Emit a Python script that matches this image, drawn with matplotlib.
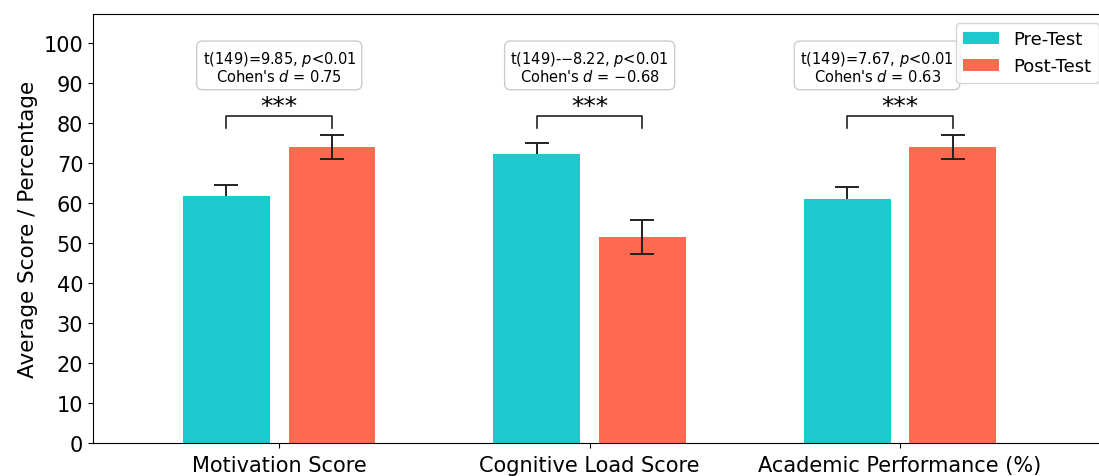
import matplotlib
matplotlib.use("Agg")
from matplotlib import pyplot as plt
import numpy as np

# data
categories = ["Motivation Score", "Cognitive Load Score", "Academic Performance (%)"]
pre_mean = [61.7, 72.3, 61.0]
pre_err = [2.8, 2.7, 3.0]
post_mean = [74.0, 51.5, 74.0]
post_err = [3.0, 4.3, 3.0]
t_labels = ["t(149)=9.85", "t(149)-\u22128.22", "t(149)=7.67"]
d_labels = ["0.75", "\u22120.68", "0.63"]

pre_color = "#1CC9CD"
post_color = "#FF6A50"

fig = plt.figure(figsize=(10.99, 4.77), dpi=100)
ax = fig.add_axes([93 / 1099, 33 / 477, (1108 - 93) / 1099, 429 / 477])

x = np.arange(len(categories))
w = 0.28
off = 0.17

# pre-test error bars sit behind their bars (lower half hidden)
ax.bar(x - off, pre_mean, w, yerr=pre_err, color=pre_color, label="Pre-Test", zorder=2,
       capsize=8.5, error_kw=dict(elinewidth=1.4, capthick=1.4, ecolor="#222222", zorder=1.5))
ax.bar(x + off, post_mean, w, yerr=post_err, color=post_color, label="Post-Test", zorder=2,
       capsize=8.5, error_kw=dict(elinewidth=1.4, capthick=1.4, ecolor="#222222", zorder=2.5))

# significance brackets + stats boxes
box_x = [0, 1, 2 - 0.074]
for i in range(len(categories)):
    y0, y1 = 78.7, 81.7
    ax.plot([i - off, i - off, i + off, i + off], [y0, y1, y1, y0], color="#222222", lw=1.2)
    ax.text(i, 84.3, "***", ha="center", va="center", fontsize=18)
    txt = t_labels[i] + ", $p$<0.01\nCohen's $d$ = " + d_labels[i]
    ax.text(box_x[i], 94.2, txt, ha="center", va="center", fontsize=10.5, linespacing=1.0,
            bbox=dict(boxstyle="round,pad=0.4", facecolor="white", edgecolor="#cccccc"))

ax.set_xlim(-0.6, 2.67)
ax.set_ylim(0, 107.3)
ax.set_yticks(np.arange(0, 101, 10))
ax.set_xticks(x)
ax.set_xticklabels(categories, fontsize=15)
ax.tick_params(axis="x", pad=5)
ax.tick_params(axis="y", labelsize=15)
ax.set_ylabel("Average Score / Percentage", fontsize=15.5)
ax.legend(loc="upper right", fontsize=13)

fig.savefig("out.png", dpi=100)
